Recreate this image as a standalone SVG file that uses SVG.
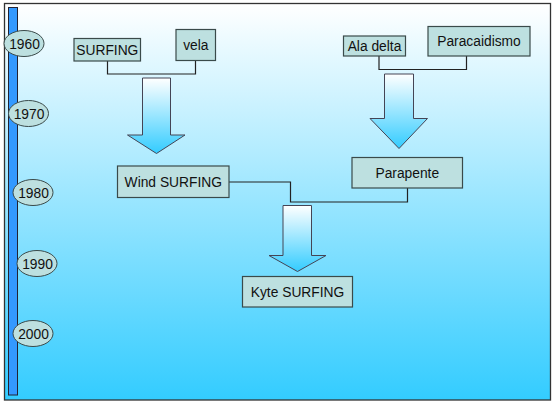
<svg xmlns="http://www.w3.org/2000/svg" width="559" height="406" viewBox="0 0 559 406">
<defs>
<linearGradient id="bg" x1="0" y1="0" x2="0" y2="1">
<stop offset="0" stop-color="#ffffff"/>
<stop offset="1" stop-color="#33ccff"/>
</linearGradient>
<linearGradient id="ar" x1="0" y1="0" x2="0" y2="1">
<stop offset="0" stop-color="#ffffff"/>
<stop offset="1" stop-color="#33ccff"/>
</linearGradient>
<style>
.box{fill:#bde0e0;stroke:#3a4a4a;stroke-width:1.2}
.yr{fill:#bde0e0;stroke:#3a4a4a;stroke-width:1}
.t{font-family:"Liberation Sans",Arial,sans-serif;font-size:13.8px;fill:#111;text-anchor:middle}
.c{fill:none;stroke:#222;stroke-width:1.2}
.arrow{fill:url(#ar);stroke:#445;stroke-width:1}
</style>
</defs>
<rect x="4.5" y="3.5" width="546" height="396.5" fill="url(#bg)" stroke="#333" stroke-width="1.3"/>
<rect x="8.5" y="7.5" width="9" height="387.5" fill="#3399ff" stroke="#223" stroke-width="1"/>
<g id="y1960"><ellipse class="yr" cx="24" cy="43.5" rx="20" ry="13"/><text class="t" x="24.5" y="48.5">1960</text></g>
<g id="y1970"><ellipse class="yr" cx="28.5" cy="113.5" rx="20" ry="13"/><text class="t" x="29" y="118.5">1970</text></g>
<g id="y1980"><ellipse class="yr" cx="33" cy="192.5" rx="20" ry="13"/><text class="t" x="33.5" y="197.5">1980</text></g>
<g id="y1990"><ellipse class="yr" cx="37" cy="263.5" rx="20" ry="13"/><text class="t" x="37.5" y="268.5">1990</text></g>
<g id="y2000"><ellipse class="yr" cx="33" cy="333.5" rx="20" ry="13"/><text class="t" x="33.5" y="338.5">2000</text></g>
<g id="connectors">
<polyline class="c" points="107.5,61 107.5,74 195.5,74 195.5,60.5"/>
<polyline class="c" points="379,56 379,69.5 466.5,69.5 466.5,56"/>
<polyline class="c" points="229,182 290.5,182 290.5,202 407.5,202 407.5,188"/>
<path class="arrow" d="M142.5,78 H170.5 V135 H185 L156.5,153.5 L127.5,135 H142.5 Z"/>
<path class="arrow" d="M384.5,74 H413.5 V118.5 H427.5 L399,148.5 L370,118.5 H384.5 Z"/>
<path class="arrow" d="M283,205.5 H311.5 V255.5 H326 L297.5,271.5 L269,255.5 H283 Z"/>
</g>
<g id="surfing"><rect class="box" x="74" y="38.5" width="66.5" height="22.5"/><text class="t" x="107.3" y="55">SURFING</text></g>
<g id="vela"><rect class="box" x="176" y="29.5" width="39.5" height="31"/><text class="t" x="195.8" y="50">vela</text></g>
<g id="aladelta"><rect class="box" x="343.5" y="36" width="62" height="20"/><text class="t" x="374.5" y="51">Ala delta</text></g>
<g id="paracaidismo"><rect class="box" x="428" y="26.5" width="102" height="29.5"/><text class="t" x="479" y="46">Paracaidismo</text></g>
<g id="windsurfing"><rect class="box" x="117.5" y="166" width="111.5" height="31.5"/><text class="t" x="173.3" y="187">Wind SURFING</text></g>
<g id="parapente"><rect class="box" x="352" y="157.5" width="110.5" height="30.5"/><text class="t" x="407.3" y="178">Parapente</text></g>
<g id="kytesurfing"><rect class="box" x="242.5" y="276.5" width="110" height="30.5"/><text class="t" x="297.5" y="297">Kyte SURFING</text></g>
</svg>
